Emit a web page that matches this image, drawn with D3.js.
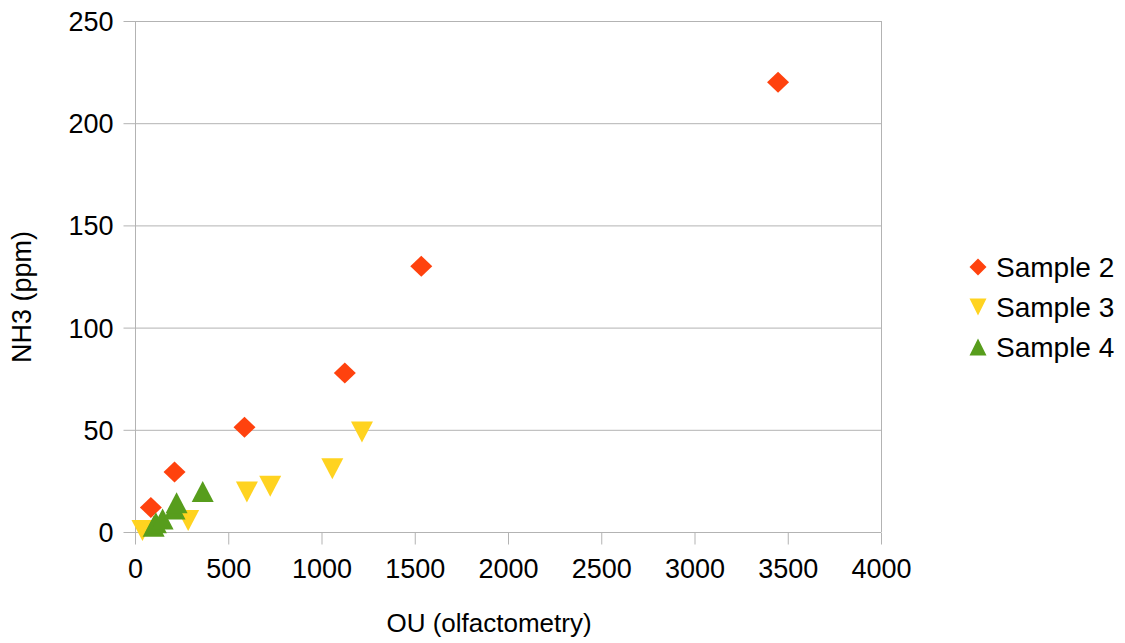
<!DOCTYPE html>
<html><head><meta charset="utf-8">
<script src="https://cdn.jsdelivr.net/npm/d3@7"></script>
<style>body{margin:0;background:#fff}text{font-family:"Liberation Sans",Arial,sans-serif;fill:#000}</style>
</head><body><svg id="c" width="1125" height="643"></svg>
<script>
const xTicks=[0,500,1000,1500,2000,2500,3000,3500,4000];
const yTicks=[0,50,100,150,200,250];
const seriesNames=["Sample 2","Sample 3","Sample 4"];
const seriesColors=["#ff420e","#ffd320","#579d1c"];
const seriesShapes=["diamond","down","up"];
const s2x=[85,212,587,1125,1535,3448];
const s2y=[12,29.3,51.3,77.8,130,220];
const s3x=[40,285,600,725,1058,1217];
const s3y=[0.7,5.6,19.6,22.4,30.9,48.9];
const s4x=[100,112,148,212,223,363];
const s4y=[2.8,4.5,6.4,11.2,14.3,19.8];
const data=[[s2x,s2y],[s3x,s3y],[s4x,s4y]];

const svg=d3.select("#c");
const L=135,R=881,T=21,B=532;
const x=d3.scaleLinear().domain([0,4000]).range([L,R]);
const y=d3.scaleLinear().domain([0,250]).range([B,T]);
const grid="#b3b3b3";

function shape(t,w,h){
  const a=w/2,b=h/2;
  if(t==="diamond")return `M0,${-b}L${a},0L0,${b}L${-a},0Z`;
  if(t==="down")return `M${-a},${-b}L${a},${-b}L0,${b}Z`;
  return `M0,${-b}L${a},${b}L${-a},${b}Z`;
}

// gridlines
svg.append("g").selectAll("line").data(yTicks).join("line")
  .attr("x1",L).attr("x2",R).attr("y1",d=>y(d)+0.5).attr("y2",d=>y(d)+0.5)
  .attr("stroke",grid).attr("stroke-width",1);
svg.append("line").attr("x1",R+0.5).attr("x2",R+0.5).attr("y1",T).attr("y2",B).attr("stroke",grid);

const gx=svg.append("g").attr("transform",`translate(0,${B+0.5})`)
  .call(d3.axisBottom(x).tickValues(xTicks).tickSize(12).tickPadding(14).tickFormat(d3.format("d")));
const gy=svg.append("g").attr("transform",`translate(${L+0.5},0)`)
  .call(d3.axisLeft(y).tickValues(yTicks).tickSize(12).tickPadding(10).tickFormat(d3.format("d")));
[gx,gy].forEach(g=>{
  g.selectAll("path,line").attr("stroke",grid);
  g.select(".domain").attr("d",g===gx?`M${L},0H${R}`:`M0,${T}V${B}`);
  g.selectAll("text").attr("font-size",27).attr("font-family","Liberation Sans, Arial, sans-serif").attr("fill","#000");
});
gx.selectAll("text").attr("dy","0.71em");
gy.selectAll("text").attr("dy","0.35em");

svg.append("text").attr("x",489).attr("y",632).attr("text-anchor","middle").attr("font-size",26).text("OU (olfactometry)");
svg.append("text").attr("transform","translate(31,297) rotate(-90)").attr("text-anchor","middle").attr("font-size",27).text("NH3 (ppm)");

// points
data.forEach((d,i)=>{
  const pts=d[0].map((v,j)=>[v,d[1][j]]);
  svg.append("g").selectAll("path").data(pts).join("path")
    .attr("d",shape(seriesShapes[i],22,21))
    .attr("transform",p=>`translate(${x(p[0])},${y(p[1])})`)
    .attr("fill",seriesColors[i]);
});

// legend
const lg=svg.append("g");
seriesNames.forEach((n,i)=>{
  const cy=267+i*40;
  lg.append("path").attr("d",shape(seriesShapes[i],17,17)).attr("transform",`translate(978,${cy})`).attr("fill",seriesColors[i]);
  lg.append("text").attr("x",996).attr("y",cy).attr("dy","0.35em").attr("font-size",28).text(n);
});
</script></body></html>
